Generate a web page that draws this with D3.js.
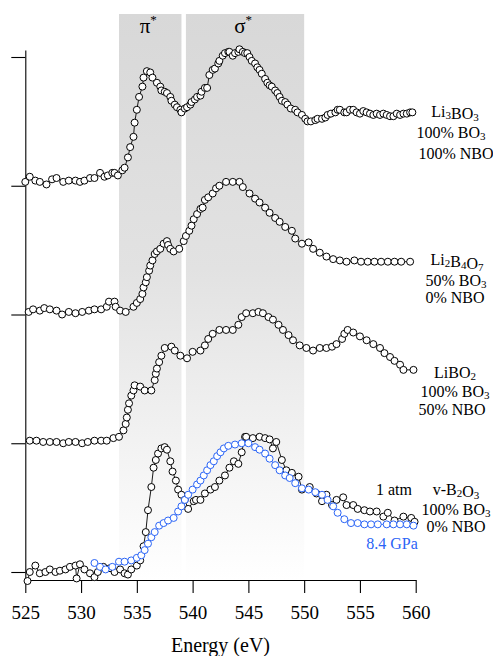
<!DOCTYPE html>
<html>
<head>
<meta charset="utf-8">
<script src="https://cdn.jsdelivr.net/npm/d3@7"></script>
<style>
  html, body { margin: 0; padding: 0; background: #fff; }
  svg text { font-family: "Liberation Serif", "Times New Roman", serif; }
</style>
</head>
<body>
<div id="chart"></div>
<script>
// Energy axis ticks (eV)
const energyTicks = [525, 530, 535, 540, 545, 550, 555, 560];
// vertical offsets of each spectrum (one unit per stacked spectrum)
const offsetTicks = [0, 1, 2, 3, 4];

// shaded resonance regions (eV)
const regionNames = ["π", "σ"];
const regionStart = [533.4, 539.4];
const regionEnd = [539.0, 550.0];

// Li3BO3 spectrum
const li3bo3E = [525.0, 525.4, 525.9, 526.3, 526.9, 527.4, 527.8, 528.4, 528.9, 529.5, 529.9, 530.3, 530.8, 531.2, 531.7, 532.1, 532.4, 532.8, 533.0, 533.3,
  533.7, 533.9, 534.2, 534.4, 534.7, 534.8, 535.0, 535.2, 535.5, 535.6, 535.9, 536.2, 536.4, 536.8, 537.1, 537.2, 537.5, 537.7, 538.0, 538.1,
  538.4, 538.6, 538.9, 539.0, 539.3, 539.5, 539.8, 539.9, 540.2, 540.4, 540.7, 540.8, 541.1, 541.3, 541.5, 541.8, 542.0, 542.3, 542.4, 542.7,
  542.9, 543.2, 543.3, 543.6, 543.8, 544.1, 544.2, 544.5, 544.7, 544.9, 545.1, 545.3, 545.6, 545.8, 546.0, 546.2, 546.5, 546.7, 546.9, 547.1,
  547.4, 547.6, 547.8, 548.0, 548.3, 548.5, 548.8, 549.2, 549.4, 549.8, 550.1, 550.3, 550.6, 551.0, 551.2, 551.6, 551.9, 552.1, 552.4, 552.8,
  553.0, 553.2, 553.6, 553.8, 554.1, 554.4, 554.7, 555.0, 555.3, 555.6, 555.9, 556.2, 556.5, 556.8, 557.1, 557.4, 557.7, 558.0, 558.3, 558.6,
  558.9, 559.2, 559.5, 559.7];
const li3bo3I = [0.03, 0.07, 0.04, 0.03, 0.01, 0.05, 0.06, 0.03, 0.04, 0.04, 0.03, 0.04, 0.06, 0.06, 0.10, 0.07, 0.08, 0.10, 0.10, 0.08,
  0.12, 0.14, 0.22, 0.30, 0.38, 0.49, 0.59, 0.69, 0.77, 0.84, 0.89, 0.88, 0.84, 0.80, 0.77, 0.74, 0.73, 0.72, 0.69, 0.66,
  0.63, 0.61, 0.59, 0.57, 0.60, 0.61, 0.63, 0.65, 0.67, 0.69, 0.70, 0.73, 0.76, 0.76, 0.86, 0.90, 0.91, 0.95, 0.97, 1.01,
  1.03, 1.04, 1.04, 1.01, 1.03, 1.04, 1.06, 1.04, 1.03, 1.03, 1.00, 0.97, 0.95, 0.92, 0.90, 0.87, 0.83, 0.80, 0.78, 0.77,
  0.74, 0.72, 0.69, 0.66, 0.65, 0.63, 0.60, 0.59, 0.57, 0.55, 0.52, 0.50, 0.50, 0.51, 0.52, 0.52, 0.53, 0.55, 0.56, 0.57,
  0.59, 0.59, 0.57, 0.57, 0.59, 0.59, 0.57, 0.56, 0.58, 0.57, 0.56, 0.55, 0.56, 0.55, 0.56, 0.55, 0.54, 0.54, 0.56, 0.55,
  0.56, 0.56, 0.57, 0.57];

// Li2B4O7 spectrum
const li2b4o7E = [525.3, 525.7, 526.3, 526.7, 527.2, 527.8, 528.3, 528.9, 529.5, 530.1, 530.7, 531.2, 531.8, 532.3, 532.5, 533.0, 533.1, 533.5, 534.0, 534.7,
  535.0, 535.3, 535.5, 535.6, 535.8, 535.9, 536.1, 536.2, 536.4, 536.6, 536.8, 537.1, 537.4, 537.7, 537.8, 538.0, 538.3, 538.8, 539.2, 539.4,
  539.7, 539.9, 540.1, 540.4, 540.7, 540.9, 541.1, 541.4, 541.8, 542.1, 542.4, 543.0, 543.6, 544.2, 544.5, 545.1, 545.6, 546.0, 546.5, 546.9,
  547.4, 547.8, 548.3, 548.9, 549.2, 549.8, 550.4, 550.8, 551.4, 552.0, 552.6, 553.2, 553.8, 554.5, 555.1, 555.7, 556.3, 556.9, 557.5, 558.1,
  558.7, 559.5];
const li2b4o7I = [0.02, 0.04, 0.03, 0.05, 0.04, 0.03, 0.00, 0.02, 0.01, 0.02, 0.03, 0.04, 0.04, 0.06, 0.10, 0.10, 0.06, 0.03, 0.02, 0.06,
  0.09, 0.12, 0.16, 0.21, 0.25, 0.29, 0.34, 0.38, 0.42, 0.47, 0.49, 0.51, 0.55, 0.57, 0.54, 0.51, 0.49, 0.51, 0.57, 0.61,
  0.65, 0.69, 0.74, 0.78, 0.82, 0.83, 0.89, 0.91, 0.94, 0.98, 1.00, 1.03, 1.03, 1.03, 0.99, 0.94, 0.90, 0.87, 0.83, 0.79,
  0.75, 0.72, 0.68, 0.65, 0.59, 0.55, 0.56, 0.51, 0.48, 0.45, 0.43, 0.42, 0.41, 0.42, 0.41, 0.41, 0.41, 0.41, 0.41, 0.41,
  0.41, 0.41];

// LiBO2 spectrum
const libo2E = [525.4, 526.0, 526.6, 527.2, 527.8, 528.4, 528.9, 529.5, 530.1, 530.6, 531.2, 531.8, 532.3, 532.9, 533.4, 533.8, 534.0, 534.1, 534.2, 534.3,
  534.5, 534.7, 534.8, 535.3, 535.7, 536.3, 536.6, 536.7, 536.8, 537.0, 537.2, 537.5, 538.1, 538.4, 538.9, 539.5, 540.0, 540.7, 541.1, 541.4,
  541.8, 542.4, 543.0, 543.6, 544.1, 544.4, 544.8, 545.4, 545.9, 546.3, 546.8, 547.2, 547.7, 548.1, 548.6, 549.0, 549.6, 550.2, 550.8, 551.4,
  552.0, 552.5, 552.9, 553.4, 553.6, 553.9, 554.4, 555.0, 555.6, 556.2, 556.8, 557.2, 557.7, 558.1, 558.6, 558.9, 559.8];
const libo2I = [0.02, 0.02, 0.01, 0.01, 0.01, 0.00, 0.01, 0.01, 0.00, 0.01, 0.02, 0.02, 0.02, 0.04, 0.05, 0.10, 0.15, 0.20, 0.26, 0.31,
  0.37, 0.41, 0.45, 0.44, 0.41, 0.41, 0.49, 0.54, 0.58, 0.63, 0.68, 0.74, 0.75, 0.72, 0.68, 0.66, 0.71, 0.72, 0.76, 0.81,
  0.85, 0.88, 0.88, 0.88, 0.92, 0.98, 1.01, 1.01, 1.02, 1.01, 0.98, 0.96, 0.92, 0.88, 0.84, 0.80, 0.76, 0.74, 0.72, 0.74,
  0.74, 0.75, 0.77, 0.81, 0.85, 0.88, 0.86, 0.83, 0.80, 0.77, 0.74, 0.70, 0.67, 0.64, 0.61, 0.57, 0.57];

// v-B2O3, 1 atm
const b2o3E = [525.2, 525.4, 525.9, 526.3, 526.8, 527.2, 527.7, 528.1, 528.6, 529.0, 529.5, 529.6, 529.9, 530.3, 530.8, 531.2, 531.5, 532.0, 532.6, 533.0,
  533.5, 533.9, 534.2, 534.5, 535.0, 535.3, 535.6, 535.8, 536.0, 536.3, 536.5, 536.7, 536.9, 537.2, 537.5, 537.7, 538.0, 538.2, 538.5, 538.7,
  539.0, 539.3, 539.6, 540.1, 540.3, 540.7, 541.1, 541.6, 542.0, 542.4, 542.9, 543.3, 543.7, 544.1, 544.4, 544.7, 544.8, 545.4, 546.0, 546.5,
  546.9, 547.2, 547.5, 548.0, 548.4, 548.9, 549.5, 549.8, 550.5, 551.1, 551.6, 552.0, 552.5, 552.9, 553.5, 553.8, 554.4, 554.8, 555.4, 555.9,
  556.5, 557.1, 557.5, 558.1, 558.9, 559.6, 559.9];
const b2o3I = [-0.07, 0.00, 0.05, -0.01, 0.00, 0.02, 0.00, 0.01, 0.02, 0.04, 0.05, -0.05, 0.06, 0.02, -0.01, -0.04, 0.00, 0.04, 0.03, 0.00,
  0.02, -0.01, -0.02, 0.02, 0.05, 0.09, 0.20, 0.31, 0.48, 0.66, 0.81, 0.87, 0.92, 0.96, 0.97, 0.95, 0.86, 0.78, 0.71, 0.64,
  0.60, 0.56, 0.49, 0.55, 0.56, 0.56, 0.61, 0.64, 0.66, 0.71, 0.75, 0.81, 0.86, 0.84, 0.93, 1.05, 1.05, 1.04, 1.05, 1.04,
  1.03, 0.96, 1.01, 0.87, 0.79, 0.77, 0.74, 0.64, 0.66, 0.61, 0.55, 0.60, 0.52, 0.56, 0.58, 0.52, 0.52, 0.49, 0.48, 0.47,
  0.47, 0.43, 0.46, 0.40, 0.43, 0.42, 0.39];

// v-B2O3, 8.4 GPa
const b2o3hpE = [531.2, 531.7, 532.2, 532.8, 533.4, 533.9, 534.5, 535.0, 535.4, 535.7, 536.0, 536.3, 536.6, 537.0, 537.4, 537.8, 538.3, 538.7, 539.0, 539.3,
  539.6, 540.0, 540.4, 540.7, 541.0, 541.3, 541.6, 541.9, 542.2, 542.5, 542.8, 543.2, 543.8, 544.4, 545.0, 545.6, 546.0, 546.5, 546.9, 547.4,
  547.8, 548.3, 548.7, 549.2, 549.8, 550.4, 551.0, 551.6, 552.1, 552.6, 553.0, 553.6, 554.2, 554.8, 555.4, 556.0, 556.6, 557.4, 558.0, 558.6,
  559.2, 559.8];
const b2o3hpI = [0.07, 0.04, 0.02, 0.04, 0.08, 0.08, 0.09, 0.11, 0.13, 0.17, 0.22, 0.27, 0.31, 0.36, 0.38, 0.40, 0.42, 0.47, 0.51, 0.56,
  0.60, 0.64, 0.68, 0.71, 0.75, 0.79, 0.83, 0.86, 0.90, 0.93, 0.96, 0.98, 0.99, 1.00, 1.00, 0.97, 0.95, 0.92, 0.88, 0.83,
  0.79, 0.75, 0.73, 0.69, 0.65, 0.64, 0.62, 0.60, 0.56, 0.51, 0.46, 0.41, 0.38, 0.38, 0.37, 0.37, 0.37, 0.37, 0.37, 0.37,
  0.37, 0.36];

const seriesOffsets = [3, 2, 1, 0, 0];
const seriesColors = ["#000", "#000", "#000", "#000", "#2a64f6"];

const width = 493, height = 656;
const serif = "'Liberation Serif', 'Times New Roman', serif";

const svg = d3.select("#chart").append("svg")
  .attr("width", width)
  .attr("height", height)
  .style("display", "block")
  .style("font-family", serif);

const x = d3.scaleLinear().domain([525, 560]).range([25.3, 415.7]);
const y = d3.scaleLinear().domain([0, 4]).range([572, 57]);
const axisY = 580;   // position of the energy axis
const shadeTop = 14;

// gradient for the shaded regions
const grad = svg.append("defs").append("linearGradient")
  .attr("id", "shade")
  .attr("gradientUnits", "userSpaceOnUse")
  .attr("x1", 0).attr("x2", 0)
  .attr("y1", shadeTop).attr("y2", axisY);
grad.append("stop").attr("offset", 0).attr("stop-color", "#d8d8d8");
grad.append("stop").attr("offset", 0.45).attr("stop-color", "#e2e2e2");
grad.append("stop").attr("offset", 1).attr("stop-color", "#ffffff");

svg.selectAll(".region")
  .data(regionNames)
  .enter().append("rect")
  .attr("class", "region")
  .attr("x", (d, i) => x(regionStart[i]))
  .attr("width", (d, i) => x(regionEnd[i]) - x(regionStart[i]))
  .attr("y", shadeTop)
  .attr("height", axisY - shadeTop)
  .attr("fill", "url(#shade)");

// region labels π* σ*
regionNames.forEach((name, i) => {
  const t = svg.append("text")
    .attr("x", x((regionStart[i] + regionEnd[i]) / 2) - 2)
    .attr("y", 33)
    .attr("text-anchor", "middle")
    .attr("font-size", "21px")
    .attr("fill", "#000");
  t.append("tspan").text(name);
  t.append("tspan").attr("font-size", "13px").attr("dy", -9).text("*");
});

// axes
const xAxis = svg.append("g")
  .attr("transform", `translate(0,${axisY})`)
  .call(d3.axisBottom(x).tickValues(energyTicks).tickSize(13).tickSizeOuter(0).tickPadding(13));
xAxis.attr("font-family", null);
xAxis.selectAll("text").attr("font-size", "19px").style("font-family", serif).attr("fill", "#000");

const yAxisScale = y.copy().domain([y.invert(axisY), y.invert(50)]).range([axisY, 50]);
svg.append("g")
  .attr("transform", "translate(25.3,0)")
  .call(d3.axisLeft(yAxisScale).tickValues(offsetTicks).tickSize(14).tickSizeOuter(0).tickFormat(""));

svg.selectAll(".domain, .tick line").attr("stroke", "#000").attr("stroke-width", 1.1);

svg.append("text")
  .attr("x", x(542.5))
  .attr("y", 652)
  .attr("text-anchor", "middle")
  .attr("font-size", "20px")
  .text("Energy (eV)");

// spectra
const seriesE = [li3bo3E, li2b4o7E, libo2E, b2o3E, b2o3hpE];
const seriesI = [li3bo3I, li2b4o7I, libo2I, b2o3I, b2o3hpI];

const line = d3.line().x(d => x(d[0])).y(d => y(d[1]));

seriesE.forEach((energies, s) => {
  const pts = energies.map((e, i) => [e, seriesI[s][i] + seriesOffsets[s]]);
  const g = svg.append("g");
  g.append("path")
    .datum(pts)
    .attr("d", line)
    .attr("fill", "none")
    .attr("stroke", seriesColors[s])
    .attr("stroke-width", 0.9);
  g.selectAll("circle")
    .data(pts)
    .enter().append("circle")
    .attr("cx", d => x(d[0]))
    .attr("cy", d => y(d[1]))
    .attr("r", 3.5)
    .attr("fill", "#fff")
    .attr("stroke", seriesColors[s])
    .attr("stroke-width", 1);
});

// labels on the right; "_n" marks a subscript digit
const labelText = ["Li_3BO_3", "100% BO_3", "100% NBO",
  "Li_2B_4O_7", "50% BO_3", "0% NBO",
  "LiBO_2", "100% BO_3", "50% NBO",
  "v-B_2O_3", "100% BO_3", "0% NBO",
  "1 atm", "8.4 GPa"];
const labelX = [455, 451, 456, 457, 456, 455, 455, 455, 452, 456, 456, 456, 394, 392];
const labelY = [117, 137.5, 158.5, 265, 286, 303, 378, 396.5, 415, 495, 515, 532, 495, 549];
const labelColor = labelText.map(t => t === "8.4 GPa" ? "#2a64f6" : "#000");

labelText.forEach((txt, i) => {
  const t = svg.append("text")
    .attr("x", labelX[i])
    .attr("y", labelY[i])
    .attr("text-anchor", "middle")
    .attr("font-size", "16px")
    .attr("fill", labelColor[i]);
  const parts = txt.split(/(_\d)/).filter(p => p.length);
  parts.forEach(p => {
    if (p[0] === "_") {
      t.append("tspan").attr("font-size", "11px").attr("dy", 2).text(p[1]);
      t.append("tspan").attr("dy", -2).text("");
    } else {
      t.append("tspan").text(p);
    }
  });
});
</script>
</body>
</html>
